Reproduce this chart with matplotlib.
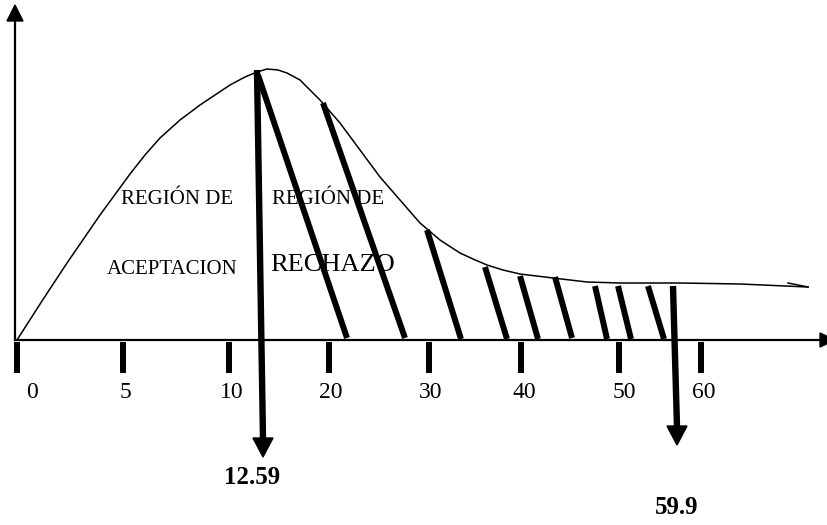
import matplotlib
matplotlib.use("Agg")
import matplotlib.pyplot as plt

# ---- data (drawing units: pixels of the 827x525 sketch, y downward) ----
tick_labels = ["0", "5", "10", "20", "30", "40", "50", "60"]
tick_x = [17, 123, 229, 329, 429, 521, 619, 701]
label_x = [32, 125, 232, 331, 431, 524, 624, 704]

curve_x = [17, 42, 67, 100, 130, 145, 160, 180, 200, 215, 230, 245, 257, 267,
           278, 287, 300, 320, 340, 360, 380, 400, 420, 440, 460, 473, 487,
           503, 520, 553, 587, 620, 680, 740, 808]
curve_y = [340, 301, 263, 215, 174, 155, 138, 120, 105, 95, 85, 77, 72, 69,
           70, 73, 80, 100, 123, 150, 177, 200, 223, 240, 253, 259, 265,
           270, 274, 278, 282, 283, 283, 284, 287]

hatch_top_x = [258, 323, 427, 485, 520, 555, 595, 618, 648]
hatch_top_y = [75, 103, 230, 267, 276, 277, 286, 286, 286]
hatch_bot_x = [347, 405, 461, 507, 538, 572, 607, 631, 664]
hatch_bot_y = [338, 338, 339, 339, 339, 338, 339, 339, 339]

crit_labels = ["12.59", "59.9"]
crit_start_x = [257, 673]
crit_start_y = [70, 286]
crit_tip_x = [263, 677]
crit_tip_y = [457, 445]
crit_label_x = [252, 677]
crit_label_y = [478, 508]

region_texts = ["REGIÓN DE", "ACEPTACION", "REGIÓN DE", "RECHAZO"]
region_x = [177, 172, 328, 333]
region_y = [199, 270, 199, 265]
region_size = [15, 15, 15, 19]

# ---- figure ----
W, H = 827, 525
fig = plt.figure(figsize=(W / 100, H / 100), dpi=100)
ax = fig.add_axes([0, 0, 1, 1])
ax.set_xlim(0, W)
ax.set_ylim(H, 0)
ax.axis("off")

serif = ["Liberation Serif", "DejaVu Serif"]
axis_y = 340
axis_x0 = 15

# axes
ax.plot([axis_x0, axis_x0], [axis_y, 21], color="black", lw=1.6, zorder=2)
ax.fill([axis_x0 - 8, axis_x0 + 8, axis_x0], [21, 21, 5], color="black", zorder=2)
ax.plot([axis_x0, 821], [axis_y, axis_y], color="black", lw=1.6, zorder=2)
ax.fill([820, 820, 835], [axis_y - 7, axis_y + 7, axis_y], color="black", zorder=2)

# tick bars and labels
for tx, lx, lab in zip(tick_x, label_x, tick_labels):
    ax.plot([tx, tx], [342, 373], color="black", lw=4.3, solid_capstyle="butt", zorder=2)
    ax.text(lx, 393, lab, family=serif, fontsize=17, ha="center", va="center", zorder=1)

# curve
ax.plot(curve_x, curve_y, color="black", lw=1.1, zorder=2,
        solid_joinstyle="round", antialiased=True)
ax.plot([788, curve_x[-1]], [283, curve_y[-1]], color="black", lw=1.1, zorder=2)

# region texts
for t, x, y, s in zip(region_texts, region_x, region_y, region_size):
    ax.text(x, y, t, family=serif, fontsize=s, ha="center", va="center", zorder=1)

# hatch lines
for x0, y0, x1, y1 in zip(hatch_top_x, hatch_top_y, hatch_bot_x, hatch_bot_y):
    ax.plot([x0, x1], [y0, y1], color="black", lw=4.3, solid_capstyle="butt", zorder=3)

# critical value arrows
for sx, sy, tx, ty, lx, ly, lab in zip(crit_start_x, crit_start_y, crit_tip_x,
                                       crit_tip_y, crit_label_x, crit_label_y, crit_labels):
    base = ty - 19
    ax.plot([sx, tx], [sy, base + 1], color="black", lw=4.6, solid_capstyle="butt", zorder=3)
    ax.fill([tx - 10, tx + 10, tx], [base, base, ty], color="black", zorder=3)
    ax.text(lx, ly, lab, family=serif, fontsize=18, fontweight="bold",
            ha="center", va="center", zorder=1)

fig.savefig("out.png", dpi=100)
